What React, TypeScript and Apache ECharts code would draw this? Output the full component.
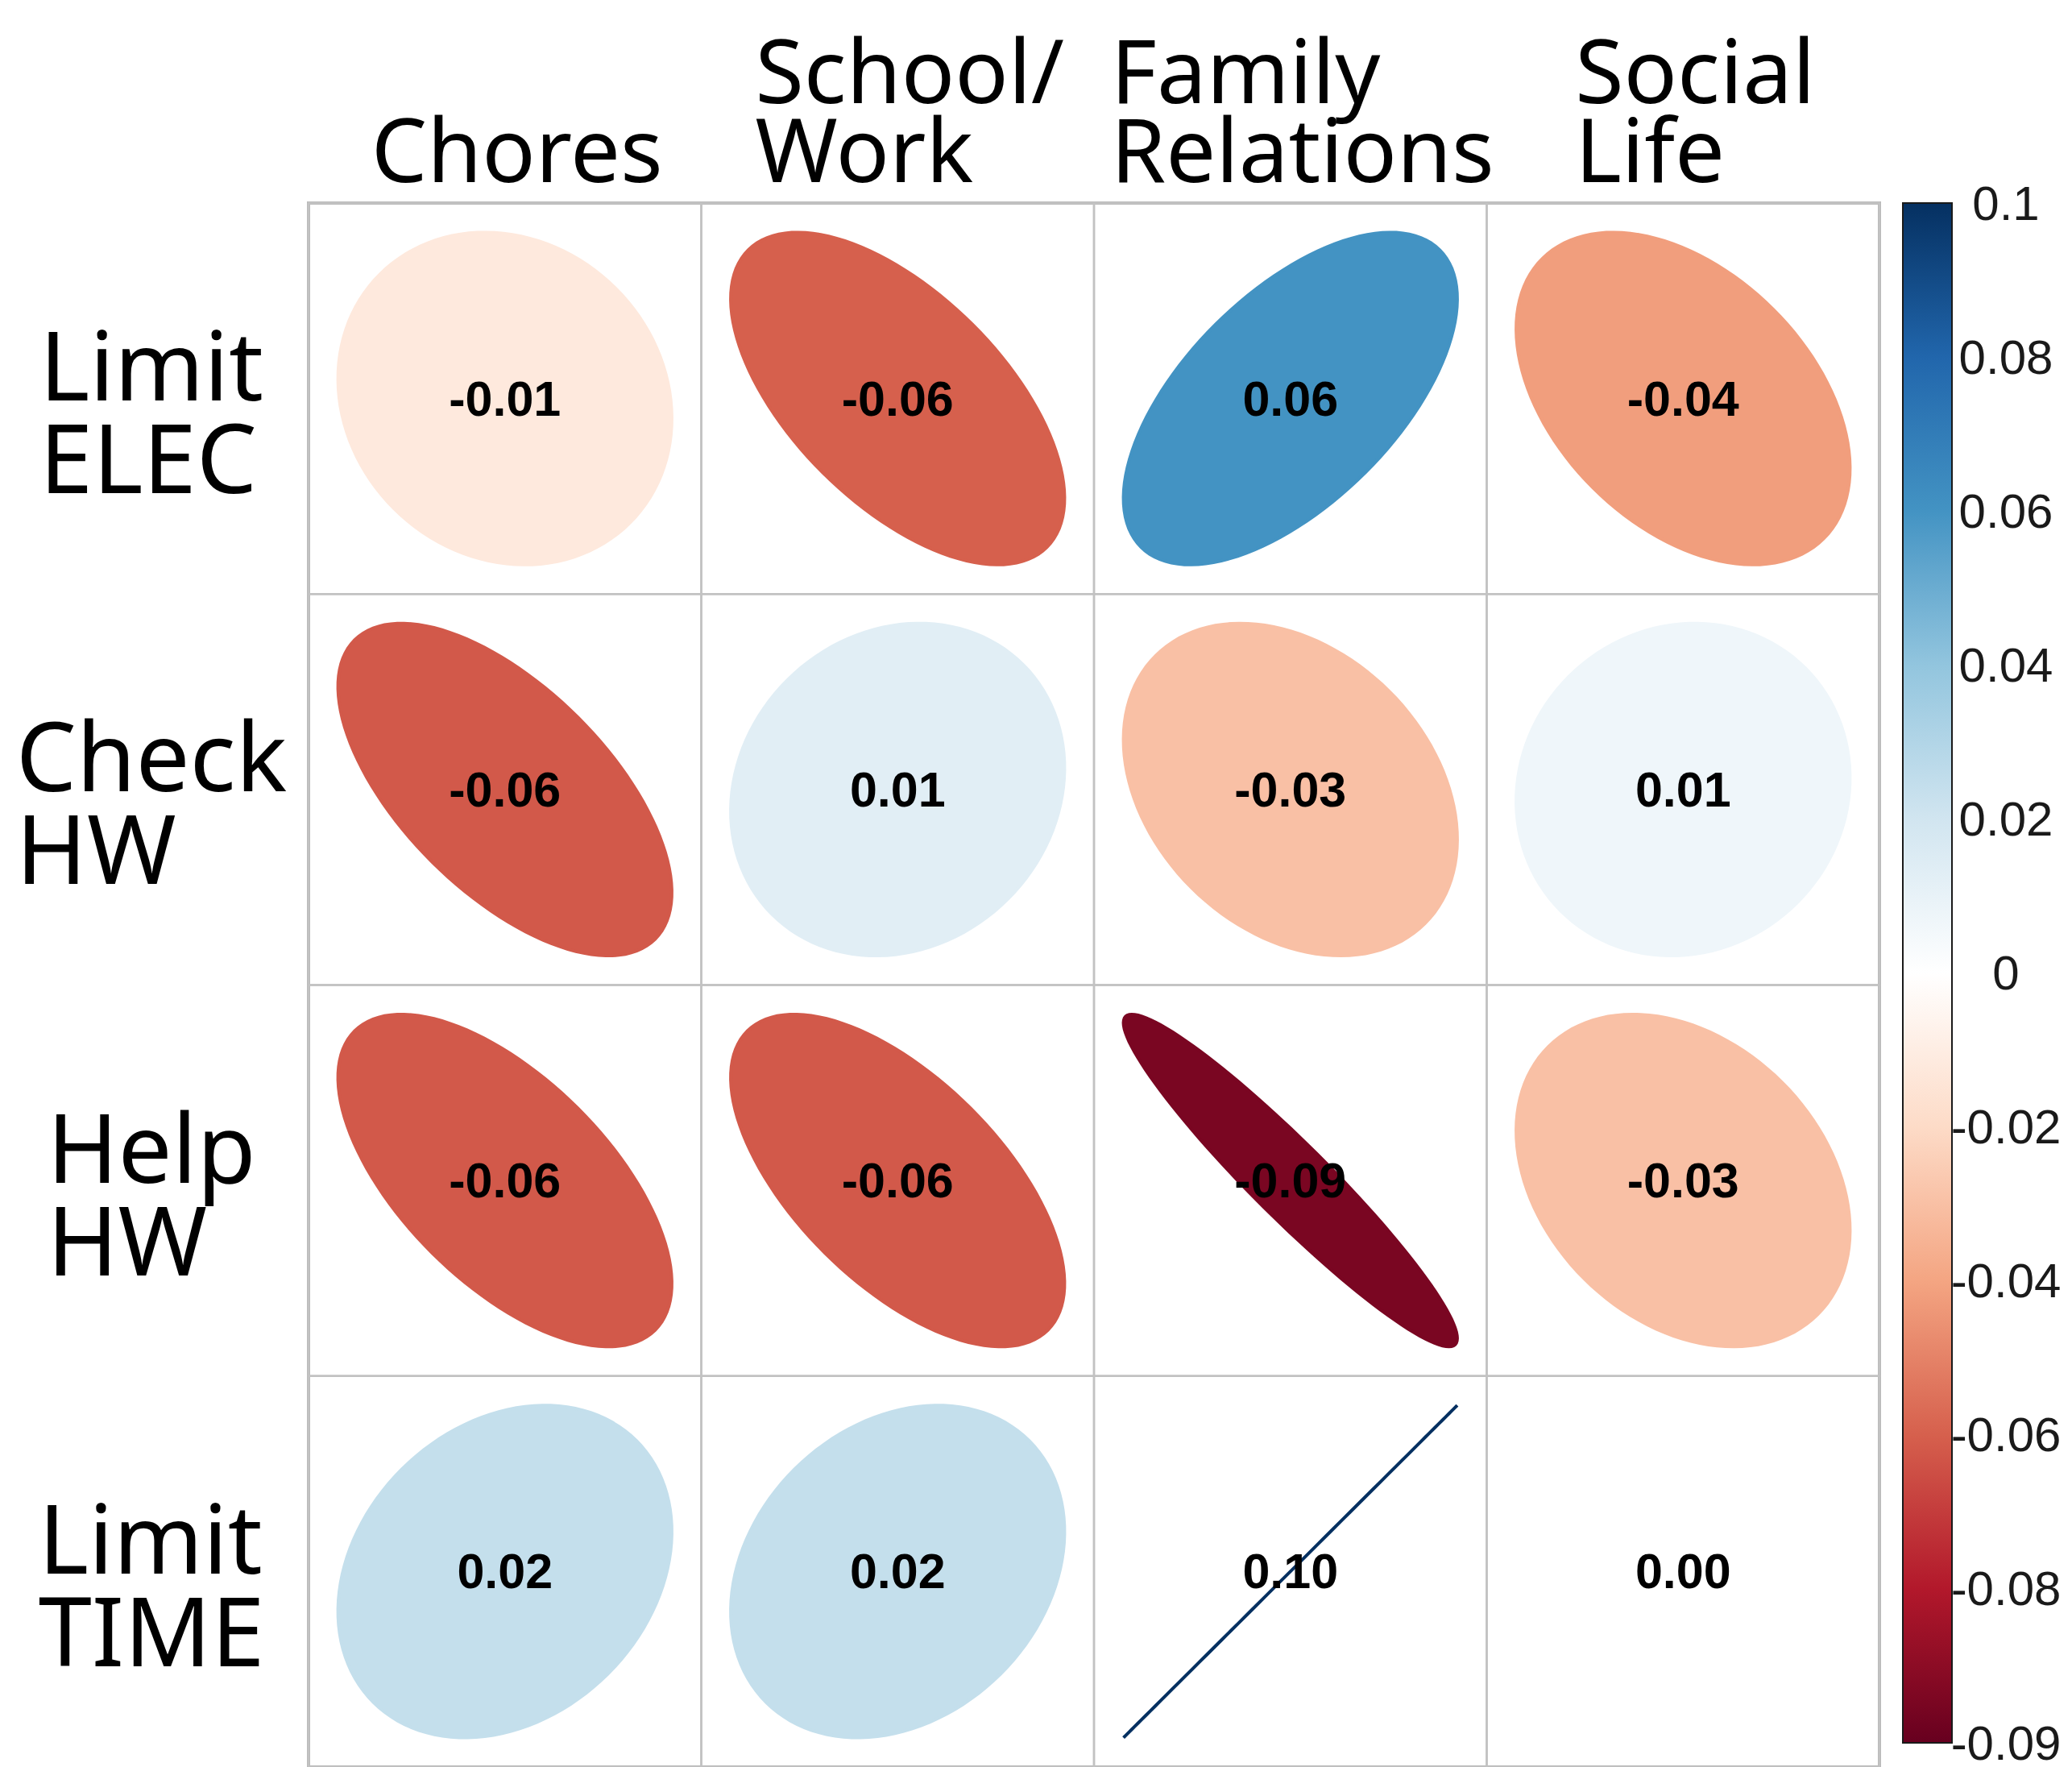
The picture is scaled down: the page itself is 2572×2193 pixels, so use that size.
import React, { useEffect, useRef } from "react";
import * as echarts from "echarts";

const rowLabels = ["Limit\nELEC", "Check\nHW", "Help\nHW", "Limit\nTIME"];
const colLabels = ["Chores", "School/\nWork", "Family\nRelations", "Social\nLife"];

const limitElec = [-0.012, -0.06, 0.06, -0.042];
const checkHW = [-0.062, 0.013, -0.03, 0.007];
const helpHW = [-0.062, -0.062, -0.0949, -0.03];
const limitTime = [0.024, 0.024, 0.1, 0.0];
const matrixRows = [limitElec, checkHW, helpHW, limitTime];

const legendTicks = ["-0.09", "-0.08", "-0.06", "-0.04", "-0.02", "0", "0.02", "0.04", "0.06", "0.08", "0.1"];
const colorMin = -0.1;
const colorMax = 0.1;
const palette = ["#67001F", "#B2182B", "#D6604D", "#F4A582", "#FDDBC7", "#FFFFFF", "#D1E5F0", "#92C5DE", "#4393C3", "#2166AC", "#053061"];

const LABEL_FONT = '"Noto Sans", "Open Sans", sans-serif';
const NUM_FONT = '"Liberation Sans", Arial, sans-serif';

export default function App() {
  const ref = useRef<HTMLDivElement>(null);
  useEffect(() => {
    document.body.style.margin = "0";
    document.body.style.overflow = "hidden";
    const chart = echarts.init(ref.current!, null, { renderer: "svg" });
    const data: number[][] = [];
    matrixRows.forEach((row, r) => row.forEach((v, c) => data.push([c, r, v])));
    const scaleMax = Math.max(Math.abs(colorMin), Math.abs(colorMax));
    const richFmt = (val: string) => val.split("\n").map((s) => `{a|${s}}`).join("\n");

    const option: any = {
      animation: false,
      backgroundColor: "#ffffff",
      grid: [
        { left: 383, top: 252, width: 1950, height: 1950, show: true, borderColor: "#b8b8b8", borderWidth: 4, backgroundColor: "transparent" },
        { left: 2362, top: 252, width: 61, height: 1952, show: false },
      ],
      xAxis: [
        {
          type: "category", data: colLabels, gridIndex: 0, position: "top",
          axisLine: { show: false }, axisTick: { show: false }, splitLine: { show: false },
          axisLabel: {
            interval: 0, margin: 20, align: "center", verticalAlign: "bottom", padding: [0, 0, 0, 30],
            formatter: richFmt,
            rich: { a: { align: "left", fontFamily: LABEL_FONT, fontSize: 110, lineHeight: 98, color: "#000" } },
          },
        },
        { type: "value", gridIndex: 1, min: 0, max: 1, show: false },
      ],
      yAxis: [
        {
          type: "category", data: rowLabels, gridIndex: 0, inverse: true,
          axisLine: { show: false }, axisTick: { show: false }, splitLine: { show: false },
          axisLabel: {
            interval: 0, margin: 195, align: "center", verticalAlign: "middle", padding: [28, 0, 0, 0],
            formatter: richFmt,
            rich: { a: { align: "left", fontFamily: LABEL_FONT, fontSize: 119, lineHeight: 115, color: "#000" } },
          },
        },
        {
          type: "value", gridIndex: 1, min: 0, max: legendTicks.length - 1, interval: 1, position: "right",
          axisLine: { show: false }, splitLine: { show: false },
          axisTick: { show: true, length: 13, lineStyle: { color: "#111", width: 2 } },
          axisLabel: {
            margin: 67, align: "center", fontFamily: NUM_FONT, fontSize: 60, color: "#1a1a1a",
            formatter: (v: number) => legendTicks[Math.round(v)] ?? "",
          },
        },
      ],
      visualMap: {
        type: "continuous", show: false, min: colorMin, max: colorMax, dimension: 2, seriesIndex: 0,
        inRange: { color: palette },
      },
      series: [
        {
          type: "custom", xAxisIndex: 0, yAxisIndex: 0, data,
          renderItem: (params: any, api: any) => {
            const c = api.coord([api.value(0), api.value(1)]);
            const s = api.size([1, 1]);
            const v = api.value(2);
            const rho = Math.max(-1, Math.min(1, v / scaleMax));
            const d = Math.acos(rho);
            const pts: number[][] = [];
            for (let i = 0; i < 120; i++) {
              const k = (2 * Math.PI * i) / 120;
              pts.push([c[0] + s[0] * 0.425 * Math.cos(k + d / 2), c[1] - s[1] * 0.425 * Math.cos(k - d / 2)]);
            }
            const color = api.visual("color");
            return {
              type: "group",
              children: [
                { type: "rect", shape: { x: c[0] - s[0] / 2, y: c[1] - s[1] / 2, width: s[0], height: s[1] }, style: { fill: "none", stroke: "#c2c2c2", lineWidth: 2.5 } },
                { type: "polygon", shape: { points: pts }, style: { fill: color, stroke: color, lineWidth: 4 } },
                { type: "text", style: { text: v.toFixed(2), x: c[0], y: c[1], align: "center", verticalAlign: "middle", font: `bold 61px ${NUM_FONT}`, fill: "#000" } },
              ],
            };
          },
        },
        {
          type: "custom", xAxisIndex: 1, yAxisIndex: 1, data: [[0]],
          renderItem: (params: any, api: any) => {
            const p0 = api.coord([0, legendTicks.length - 1]);
            const p1 = api.coord([1, 0]);
            const stops = palette.slice().reverse().map((col, i) => ({ offset: i / (palette.length - 1), color: col }));
            return {
              type: "rect",
              shape: { x: p0[0], y: p0[1], width: p1[0] - p0[0], height: p1[1] - p0[1] },
              style: { fill: new echarts.graphic.LinearGradient(0, 0, 0, 1, stops), stroke: "#1a1a1a", lineWidth: 2 },
            };
          },
        },
      ],
    };
    chart.setOption(option);
    return () => chart.dispose();
  }, []);
  return <div ref={ref} style={{ width: 2572, height: 2193 }} />;
}
